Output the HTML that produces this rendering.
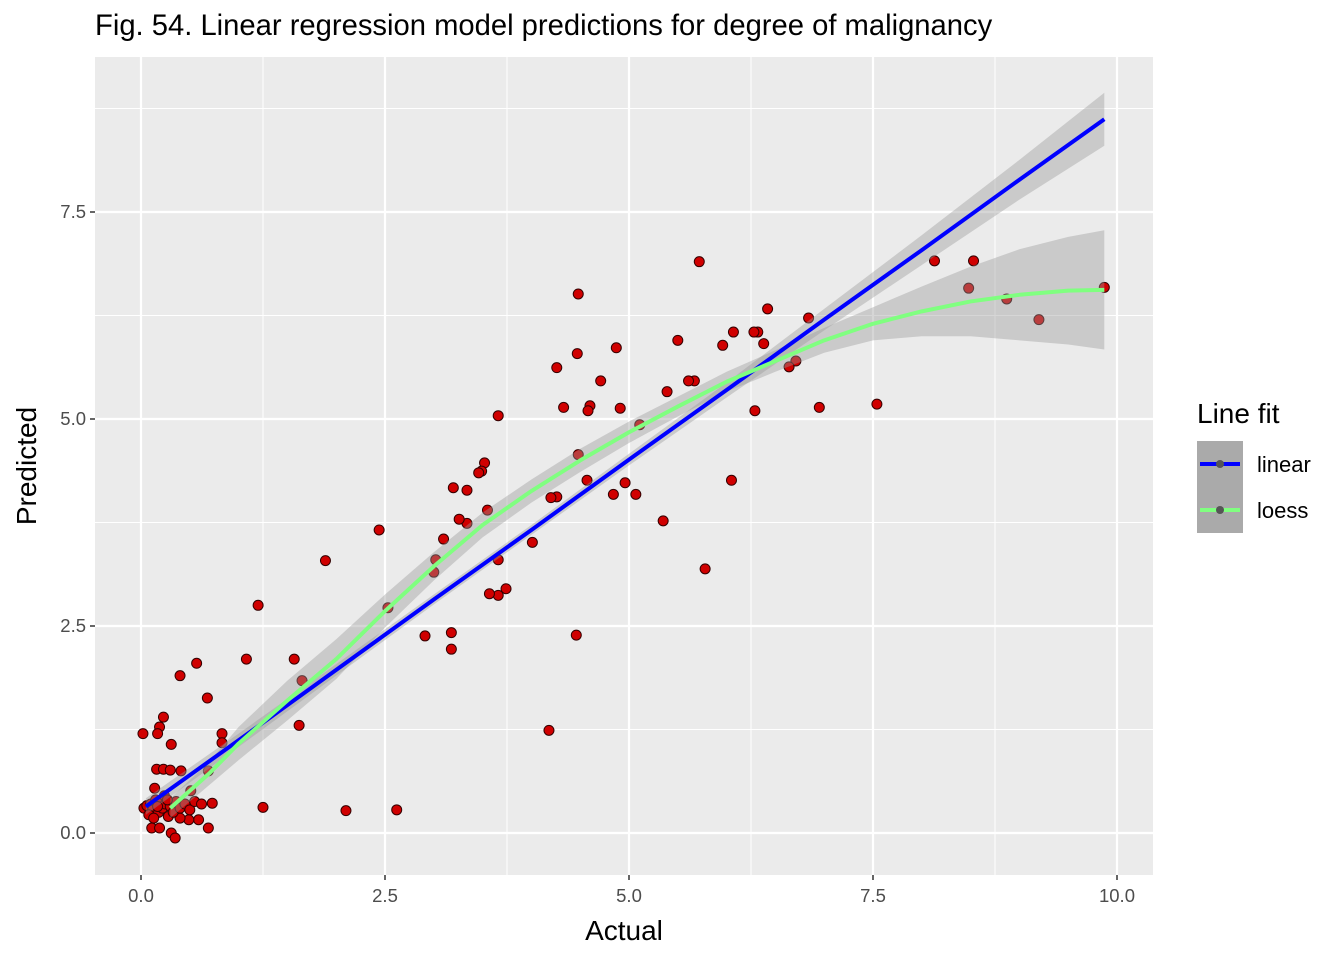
<!DOCTYPE html>
<html><head><meta charset="utf-8"><style>
body{margin:0;background:#fff;}
svg{display:block;font-family:"Liberation Sans",Arial,sans-serif;}
</style></head><body>
<svg id="c" width="1344" height="960"></svg>
<script>
const actual=[9.87,8.87,9.20,8.13,8.53,8.48,7.54,6.95,6.84,6.42,6.38,6.32,6.28,6.07,5.96,6.71,6.64,6.29,6.05,5.78,5.72,5.67,5.61,5.50,5.39,5.35,5.11,5.07,4.96,4.91,4.87,4.84,4.71,4.60,4.58,4.57,4.48,4.47,4.48,4.46,4.33,4.26,4.26,4.20,4.18,4.01,3.66,3.66,3.74,3.66,3.57,3.55,3.52,3.49,3.46,3.34,3.34,3.26,3.20,3.18,3.18,3.10,3.02,3.00,2.91,2.44,2.53,2.62,2.10,1.89,1.65,1.62,1.57,1.25,1.20,1.08,0.83,0.83,0.73,0.68,0.69,0.69,0.57,0.40,0.41,0.31,0.23,0.19,0.17,0.02,0.16,0.23,0.30,0.14,0.51,0.59,0.49,0.40,0.31,0.35,0.11,0.19,0.03,0.06,0.10,0.12,0.15,0.18,0.20,0.22,0.25,0.28,0.30,0.33,0.36,0.40,0.45,0.50,0.55,0.62,0.08,0.13,0.24,0.27,0.17];
const predicted=[6.59,6.45,6.20,6.91,6.91,6.58,5.18,5.14,6.22,6.33,5.91,6.05,6.05,6.05,5.89,5.70,5.63,5.10,4.26,3.19,6.90,5.46,5.46,5.95,5.33,3.77,4.93,4.09,4.23,5.13,5.86,4.09,5.46,5.16,5.10,4.26,6.51,5.79,4.57,2.39,5.14,5.62,4.06,4.05,1.24,3.51,5.04,3.30,2.95,2.87,2.89,3.90,4.47,4.37,4.35,3.74,4.14,3.79,4.17,2.22,2.42,3.55,3.30,3.15,2.38,3.66,2.72,0.28,0.27,3.29,1.84,1.30,2.10,0.31,2.75,2.10,1.20,1.09,0.36,1.63,0.75,0.06,2.05,1.90,0.75,1.07,1.40,1.28,1.20,1.20,0.77,0.77,0.76,0.54,0.51,0.16,0.16,0.18,0.00,-0.06,0.06,0.06,0.30,0.33,0.35,0.28,0.40,0.25,0.38,0.30,0.35,0.20,0.32,0.25,0.38,0.30,0.35,0.28,0.38,0.35,0.22,0.18,0.45,0.40,0.32];
const linX=[0.05,1,2,3,4,5,6,7,8,9,9.87];
const linY=[0.32,1.12,1.97,2.82,3.66,4.51,5.35,6.2,7.04,7.89,8.62];
const linSE=[0.1,0.08,0.07,0.06,0.06,0.07,0.09,0.13,0.18,0.24,0.32];
const loessX=[0.3,0.7,1,1.5,2,2.5,3,3.5,4,4.5,5,5.5,6,6.5,7,7.5,8,8.5,9,9.5,9.87];
const loessY=[0.3,0.72,1.08,1.6,2.1,2.68,3.22,3.72,4.13,4.5,4.84,5.15,5.45,5.7,5.95,6.15,6.3,6.42,6.5,6.55,6.56];
const loessSE=[0.12,0.14,0.2,0.24,0.24,0.2,0.17,0.15,0.14,0.14,0.13,0.12,0.12,0.13,0.15,0.2,0.3,0.42,0.55,0.65,0.72];
const xTicks=[0,2.5,5,7.5,10], xTickLabels=["0.0","2.5","5.0","7.5","10.0"];
const yTicks=[0,2.5,5,7.5], yTickLabels=["0.0","2.5","5.0","7.5"];

const S=document.getElementById('c'),NS='http://www.w3.org/2000/svg';
const X=v=>141+v*97.6, Y=v=>833-v*82.8;
function el(t,a,p){const e=document.createElementNS(NS,t);for(const k in a)e.setAttribute(k,a[k]);(p||S).appendChild(e);return e;}
const L=95,R=1153,T=57,B=875;
let bg=el('rect',{x:L,y:T,width:R-L,height:B-T,fill:'#ebebeb'});


for(let i=0;i<4;i++){const v=1.25+2.5*i;
 el('line',{x1:X(v),x2:X(v),y1:T,y2:B,stroke:'#fff','stroke-width':1});
 el('line',{x1:L,x2:R,y1:Y(v),y2:Y(v),stroke:'#fff','stroke-width':1});}
xTicks.forEach((v,i)=>{el('line',{x1:X(v),x2:X(v),y1:T,y2:B,stroke:'#fff','stroke-width':2.2});
 el('line',{x1:X(v),x2:X(v),y1:B,y2:B+5,stroke:'#333','stroke-width':1.5});
 const t=el('text',{x:X(v),y:B+27,'text-anchor':'middle','font-size':18.5,fill:'#4d4d4d'});t.textContent=xTickLabels[i];
 
 });
yTicks.forEach((v,i)=>{el('line',{x1:L,x2:R,y1:Y(v),y2:Y(v),stroke:'#fff','stroke-width':2.2});
 el('line',{x1:L-5,x2:L,y1:Y(v),y2:Y(v),stroke:'#333','stroke-width':1.5});
 const t=el('text',{x:L-9,y:Y(v)+6,'text-anchor':'end','font-size':18.5,fill:'#4d4d4d'});t.textContent=yTickLabels[i];
 
 });
actual.forEach((a,i)=>{const c=el('circle',{cx:X(a),cy:Y(predicted[i]),r:5,fill:'#d00000',stroke:'#300','stroke-width':1});
 
 });
function band(xs,ys,se,name){let u=[],l=[];xs.forEach((x,i)=>{u.push(X(x)+','+Y(ys[i]+se[i]));l.unshift(X(x)+','+Y(ys[i]-se[i]));});
 const p=el('polygon',{points:u.concat(l).join(' '),fill:'#999','fill-opacity':0.4});
 
 }
band(linX,linY,linSE,'linear-confidence-band');
band(loessX,loessY,loessSE,'loess-confidence-band');
let bl=el('polyline',{points:linX.map((x,i)=>X(x)+','+Y(linY[i])).join(' '),fill:'none',stroke:'#0000ff','stroke-width':4});


let gr=el('polyline',{points:loessX.map((x,i)=>X(x)+','+Y(loessY[i])).join(' '),fill:'none',stroke:'#80ff80','stroke-width':4,'stroke-linejoin':'round'});


</script>
<svg style="position:absolute;left:0;top:0" width="1344" height="960">
<text x="95" y="35" font-size="29.2" fill="#000" font-family="Liberation Sans, sans-serif">Fig. 54. Linear regression model predictions for degree of malignancy</text>
<text x="624" y="940" font-size="28" text-anchor="middle" font-family="Liberation Sans, sans-serif">Actual</text>
<text transform="translate(36,466) rotate(-90)" font-size="28" text-anchor="middle" font-family="Liberation Sans, sans-serif">Predicted</text>
<text x="1197" y="423" font-size="28" font-family="Liberation Sans, sans-serif">Line fit</text>
<g>
<rect x="1197" y="441" width="46" height="46" fill="#aaa"/><line x1="1200" x2="1240" y1="464" y2="464" stroke="#0000ff" stroke-width="4"/><circle cx="1220" cy="464" r="4" fill="#555"/>
<text x="1257" y="472" font-size="22" font-family="Liberation Sans, sans-serif">linear</text></g>
<g>
<rect x="1197" y="487" width="46" height="46" fill="#aaa"/><line x1="1200" x2="1240" y1="510" y2="510" stroke="#80ff80" stroke-width="4"/><circle cx="1220" cy="510" r="4" fill="#555"/>
<text x="1257" y="518" font-size="22" font-family="Liberation Sans, sans-serif">loess</text></g>
</svg>
</body></html>
